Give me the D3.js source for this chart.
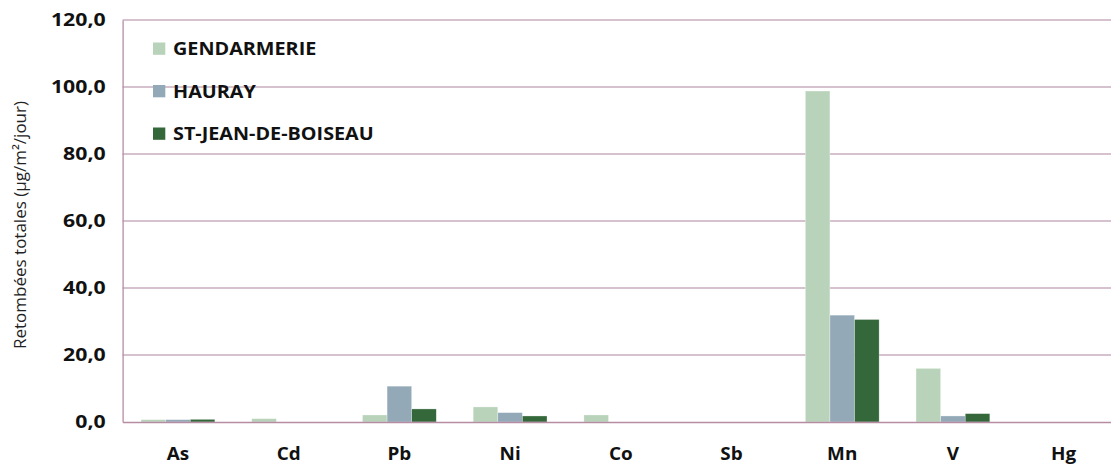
<!DOCTYPE html>
<html>
<head>
<meta charset="utf-8">
<script src="https://cdn.jsdelivr.net/npm/d3@7"></script>
<style>
  html, body { margin: 0; padding: 0; background: #fff; }
  svg { display: block; }
  text { font-family: "Open Sans", "DejaVu Sans", sans-serif; }
</style>
</head>
<body>
<svg id="chart" width="1111" height="464"></svg>
<script>
// Metals measured in total deposition
const categories = ["As", "Cd", "Pb", "Ni", "Co", "Sb", "Mn", "V", "Hg"];
const seriesNames = ["GENDARMERIE", "HAURAY", "ST-JEAN-DE-BOISEAU"];
const gendarmerie = [0.7, 1.0, 2.1, 4.5, 2.1, 0, 98.8, 16.0, 0];
const hauray      = [0.7, 0, 10.7, 2.8, 0, 0, 31.9, 1.8, 0];
const stJean      = [0.8, 0, 3.9, 1.8, 0, 0, 30.6, 2.5, 0];
const yTicks = [0, 20, 40, 60, 80, 100, 120];
const colors = ["#b8d3b9", "#93a9b8", "#34673a"];

const seriesValues = [gendarmerie, hauray, stJean];

const svg = d3.select("#chart");
const margin = { left: 122.6, top: 20, right: -8, bottom: 42 };
const width = 1111;

const x = d3.scaleBand()
  .domain(categories)
  .range([margin.left, width - margin.right])
  .paddingInner(0).paddingOuter(0);

const y = d3.scaleLinear().domain([0, 120]).range([422, margin.top]);

// bar width: three bars plus a 150% gap per category
const bw = x.bandwidth() / 4.5;
const xs = d3.scaleBand().domain(seriesNames).range([0, bw * 3]);

// widen a text element horizontally around its anchor point
function widen(sel, s) {
  sel.each(function () {
    const t = d3.select(this);
    const tx = +t.attr("x") || 0;
    t.attr("x", 0).attr("transform", `translate(${tx},0) scale(${s},1)`);
  });
}

// horizontal gridlines
svg.append("g")
  .selectAll("line")
  .data(yTicks.filter(d => d > 0))
  .join("line")
  .attr("x1", margin.left).attr("x2", width - margin.right)
  .attr("y1", d => y(d)).attr("y2", d => y(d))
  .attr("stroke", "#c8aebe").attr("stroke-width", 1.3);

// bars
const groups = svg.append("g")
  .selectAll("g")
  .data(seriesNames)
  .join("g")
  .attr("fill", (d, i) => colors[i]);

groups.selectAll("rect")
  .data((s, si) => categories.map((c, ci) => ({ c, s, v: seriesValues[si][ci] })))
  .join("rect")
  .filter(d => d.v > 0)
  .attr("x", d => x(d.c) + (x.bandwidth() - bw * 3) / 2 + xs(d.s))
  .attr("y", d => y(d.v))
  .attr("width", bw)
  .attr("height", d => y(0) - y(d.v))
  .attr("stroke", "rgba(255,255,255,0.5)")
  .attr("stroke-width", 0.6);

// y axis
const yAxis = d3.axisLeft(y)
  .tickValues(yTicks)
  .tickSize(0)
  .tickPadding(17)
  .tickFormat(d => d3.format(".1f")(d).replace(".", ","));

const gy = svg.append("g")
  .attr("transform", `translate(${margin.left},0)`)
  .call(yAxis);
gy.select(".domain").attr("stroke", "#b58ca2").attr("stroke-width", 1.3);
gy.selectAll("text")
  .attr("font-size", 17).attr("font-weight", 700).attr("fill", "#111")
  .call(widen, 1.25);

// x axis
const xAxis = d3.axisBottom(x).tickSize(0).tickPadding(25);
const gx = svg.append("g")
  .attr("transform", `translate(0,${y(0)})`)
  .call(xAxis);
gx.select(".domain").attr("stroke", "#b58ca2").attr("stroke-width", 1.3);
gx.selectAll("text")
  .attr("font-size", 18).attr("font-weight", 700).attr("fill", "#111")
  .call(widen, 1.05);

// y axis title
svg.append("text")
  .attr("transform", `translate(26,${(y(0) + y(120)) / 2 + 4}) rotate(-90)`)
  .attr("text-anchor", "middle")
  .attr("font-size", 17)
  .attr("fill", "#222")
  .text("Retombées totales (µg/m²/jour)");

// legend
const legend = svg.append("g")
  .selectAll("g")
  .data(seriesNames)
  .join("g")
  .attr("transform", (d, i) => `translate(153,${42.5 + i * 42.5})`);
legend.append("rect")
  .attr("width", 12.3).attr("height", 12.3)
  .attr("fill", (d, i) => colors[i]);
legend.append("text")
  .attr("x", 20).attr("y", 12.6)
  .attr("font-size", 18).attr("font-weight", 700).attr("fill", "#111")
  .text(d => d)
  .call(widen, 1.1);
</script>
</body>
</html>
